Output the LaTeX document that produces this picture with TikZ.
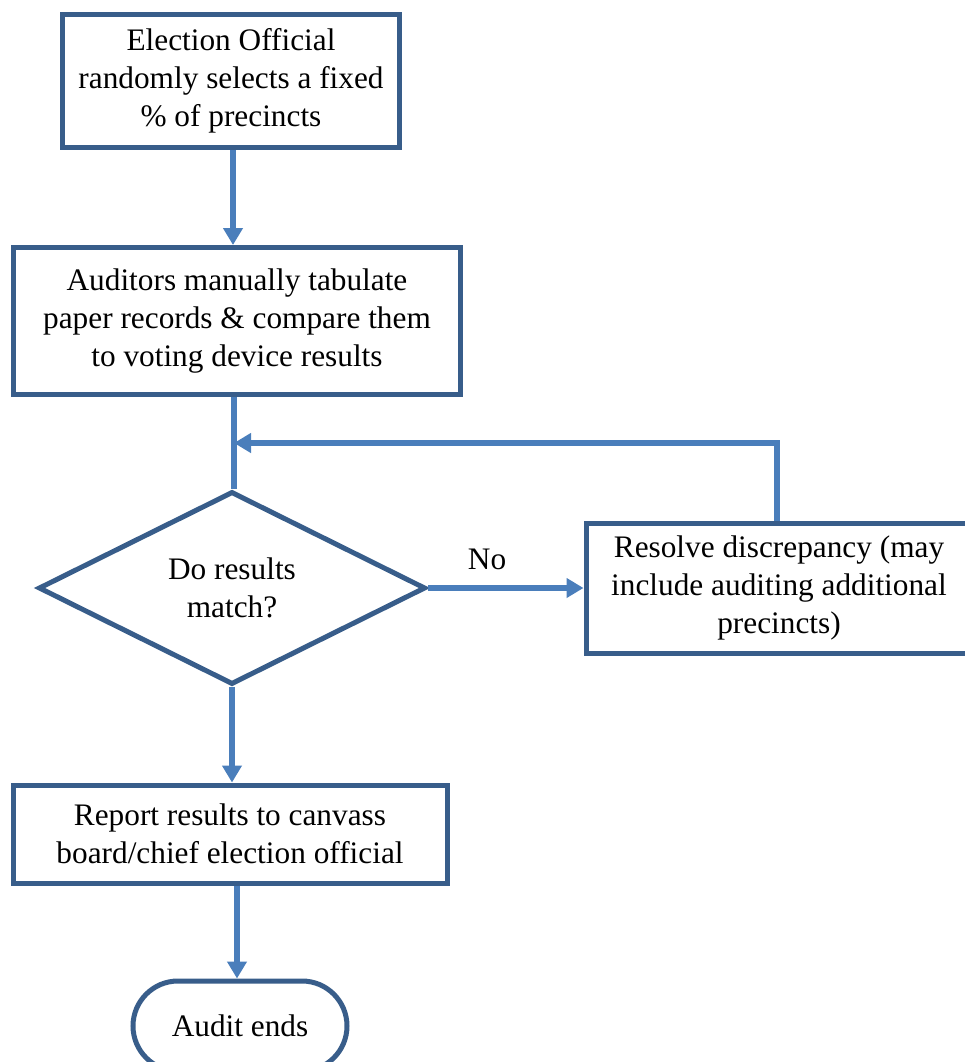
\documentclass[tikz,border=0pt]{standalone}
\usepackage{fontspec}
\setmainfont{Liberation Serif}
\usetikzlibrary{arrows.meta,shapes.geometric,shapes.misc}

\definecolor{boxblue}{HTML}{385D8A}
\definecolor{arrowblue}{HTML}{4A7EBB}

\tikzset{
    stepbox/.style={draw=boxblue, line width=5pt, fill=white, align=center, inner sep=0pt},
    flow/.style={draw=arrowblue, line width=5.5pt, -{Triangle[length=17pt,width=19pt]}},
    every node/.style={font=\fontsize{31.3}{38}\selectfont}
}

\begin{document}
\begin{tikzpicture}[x=1pt, y=-1pt]
        \useasboundingbox (0,0) rectangle (965,1062);

        % Boxes
        \node[stepbox, minimum width=337pt, minimum height=133pt] (select) at (231,81) {Election Official\\randomly selects a fixed\\\% of precincts};
        \node[stepbox, minimum width=447pt, minimum height=147pt] (tabulate) at (237,321) {Auditors manually tabulate\\paper records \& compare them\\to voting device results};
        \node[stepbox, diamond, minimum width=387pt, minimum height=193pt] (match) at (232,588) {Do results\\match?};
        \node[stepbox, minimum width=386pt, minimum height=130pt] (resolve) at (779,588) {Resolve discrepancy (may\\include auditing additional\\precincts)};
        \node[stepbox, minimum width=434pt, minimum height=98pt] (report) at (230,834) {Report results to canvass\\board/chief election official};
        \node[stepbox, rounded rectangle, minimum width=214pt, minimum height=90pt] (ends) at (240,1026) {Audit ends};

        % Arrows
        \draw[flow] (233,150) -- (233,245);
        \coordinate (join) at (234,443);
        \draw[draw=arrowblue, line width=5.5pt] (tabulate.south -| join) -- (match.north -| join);
        \draw[flow] (resolve.north -| 777,0) |- (join);
        \draw[flow] (match.east) -- node[above, pos=0.38, yshift=12pt] (no) {No} (resolve.west);
        \draw[flow] (match.south) -- (match.south |- report.north);
        \draw[flow] (report.south -| 237,0) -- (ends.north -| 237,0);
    \end{tikzpicture}
\end{document}
